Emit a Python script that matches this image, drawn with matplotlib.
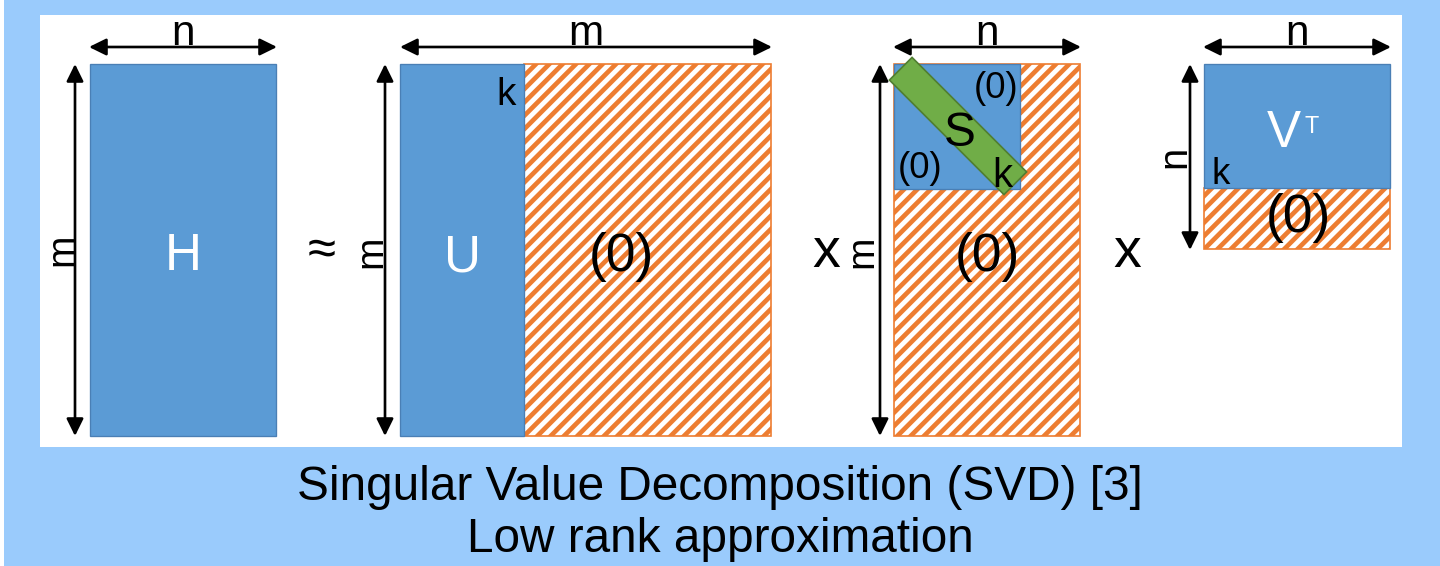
import matplotlib
matplotlib.use("Agg")
import matplotlib.pyplot as plt
from matplotlib.patches import Rectangle, Polygon
import numpy as np

# blocks of the decomposition (pixel units, y grows downward)
blue_x = [90, 400, 894, 1204]
blue_y = [64, 64, 64, 64]
blue_w = [186, 124, 126, 186]
blue_h = [372, 372, 125, 124]

zero_x = [524, 894, 1204]
zero_y = [64, 64, 188]
zero_w = [247, 186, 186]
zero_h = [372, 372, 61]

# dimension arrows: horizontal (x0, x1, y, label) and vertical (x, y0, y1, label)
h_arrows = [(89, 277, 47, "n"), (400, 772, 47, "m"), (893, 1081, 47, "n"), (1203, 1391, 47, "n")]
v_arrows = [(75, 64, 436, "m"), (385, 64, 436, "m"), (880, 64, 436, "m"), (1190, 64, 250, "n")]
# where the rotated side labels sit (right edge of glyph, vertical centre)
v_label_x = [72, 381, 872, 1185]
v_label_y = [250, 252, 252, 157]

BLUE = "#5B9BD5"
BLUE_EDGE = "#4A7FB5"
ORANGE = "#ED7D31"
GREEN = "#70AD47"
GREEN_EDGE = "#507E32"
BG = "#9ACBFC"

plt.rcParams['font.family'] = ['Liberation Sans', 'DejaVu Sans']
plt.rcParams['hatch.linewidth'] = 4.2

fig = plt.figure(figsize=(18, 7.075), dpi=80)
fig.patch.set_facecolor(BG)
ax = fig.add_axes([0, 0, 1, 1])
ax.set_xlim(0, 1440)
ax.set_ylim(566, 0)
ax.axis('off')

# white panel
ax.add_patch(Rectangle((0, 0), 4, 566, facecolor='white', edgecolor='none'))
ax.add_patch(Rectangle((40, 15), 1362, 432, facecolor='white', edgecolor='none'))

# hatched zero blocks
for x, y, w, h in zip(zero_x, zero_y, zero_w, zero_h):
    ax.add_patch(Rectangle((x, y), w, h, facecolor='white', edgecolor=ORANGE,
                           hatch='//', lw=1.5))

# blue blocks
for x, y, w, h in zip(blue_x, blue_y, blue_w, blue_h):
    ax.add_patch(Rectangle((x, y), w, h, facecolor=BLUE, edgecolor=BLUE_EDGE, lw=1.2))

# green diagonal for S
c = np.array([958, 126])
u = np.array([1, 1]) / np.sqrt(2)
v = np.array([1, -1]) / np.sqrt(2)
L, W = 162, 32
corners = [c - u*L/2 - v*W/2, c - u*L/2 + v*W/2, c + u*L/2 + v*W/2, c + u*L/2 - v*W/2]
ax.add_patch(Polygon(corners, closed=True, facecolor=GREEN, edgecolor=GREEN_EDGE, lw=1.5))

arrow_style = dict(arrowstyle='<|-|>,head_length=0.65,head_width=0.32', color='black',
                   lw=2.4, mutation_scale=20, shrinkA=0, shrinkB=0)
for x0, x1, y, lab in h_arrows:
    ax.annotate('', xy=(x1, y), xytext=(x0, y), arrowprops=arrow_style)
    ax.text((x0 + x1) / 2, 45, lab, fontsize=38, ha='center', va='baseline')
for (x, y0, y1, lab), lx, ly in zip(v_arrows, v_label_x, v_label_y):
    ax.annotate('', xy=(x, y1), xytext=(x, y0), arrowprops=arrow_style)
    ax.text(lx, ly, lab, fontsize=36 if lab == "n" else 35, rotation=90,
            rotation_mode='anchor', ha='center', va='baseline')

# block letters
ax.text(183, 270, "H", color='white', fontsize=46, ha='center', va='baseline')
ax.text(462, 271, "U", color='white', fontsize=46, ha='center', va='baseline')
ax.text(1284, 147, "V", color='white', fontsize=46, ha='center', va='baseline')
ax.text(1312, 133, "T", color='white', fontsize=21, ha='center', va='baseline')
ax.text(960, 146, "S", color='black', fontsize=43, ha='center', va='baseline')

# k markers
ax.text(506, 105, "k", fontsize=35, ha='center', va='baseline')
ax.text(1002, 187, "k", fontsize=36, ha='center', va='baseline')
ax.text(1221, 184, "k", fontsize=33, ha='center', va='baseline')

# zero labels
ax.text(621, 257, "(0)", fontsize=48, ha='center', va='center')
ax.text(987, 257, "(0)", fontsize=48, ha='center', va='center')
ax.text(1298, 218, "(0)", fontsize=48, ha='center', va='center')
ax.text(996, 89, "(0)", fontsize=33, ha='center', va='center')
ax.text(920, 168, "(0)", fontsize=33, ha='center', va='center')

# operators
ax.text(322, 251, "≈", fontsize=46, ha='center', va='center')
ax.text(826, 267, "x", fontsize=50, ha='center', va='baseline')
ax.text(1127, 267, "x", fontsize=50, ha='center', va='baseline')

# caption
ax.text(720, 500, "Singular Value Decomposition (SVD) [3]", fontsize=43,
        ha='center', va='baseline')
ax.text(720, 552, "Low rank approximation", fontsize=43, ha='center', va='baseline')

fig.savefig("out.png", dpi=80, facecolor=BG)
